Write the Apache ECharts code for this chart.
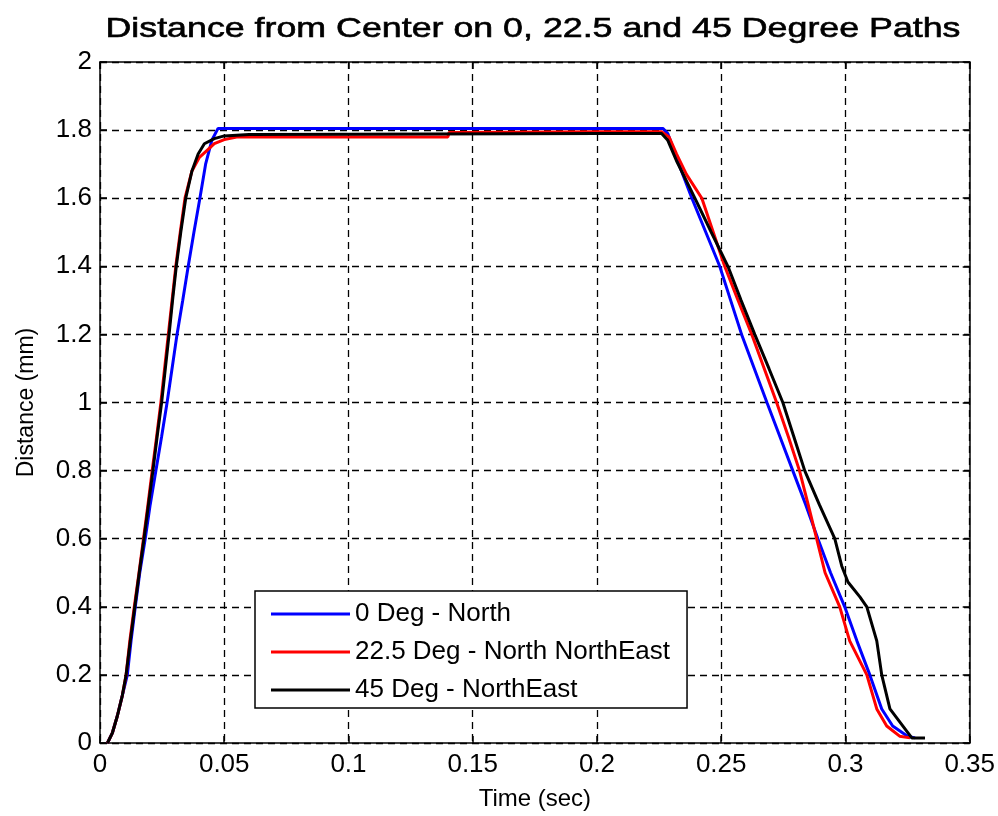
<!DOCTYPE html>
<html><head><meta charset="utf-8">
<script src="https://cdn.jsdelivr.net/npm/echarts@6/dist/echarts.min.js"></script>
<style>html,body{margin:0;padding:0;background:#fff}#c{width:998px;height:816px}</style>
</head><body><div id="c"></div>
<script>
const titleText = 'Distance from Center on 0, 22.5 and 45 Degree Paths';
const seriesNames = ['0 Deg - North', '22.5 Deg - North NorthEast', '45 Deg - NorthEast'];
const xTicks = [0, 0.05, 0.1, 0.15, 0.2, 0.25, 0.3, 0.35];
const yTicks = [0, 0.2, 0.4, 0.6, 0.8, 1, 1.2, 1.4, 1.6, 1.8, 2];
const deg0 = [[0.003,0],[0.005,0.03],[0.007,0.08],[0.009,0.14],[0.011,0.2],[0.0125,0.3],[0.0142,0.4],[0.016,0.5],[0.0182,0.6],[0.0202,0.7],[0.0225,0.8],[0.0248,0.9],[0.027,1.0],[0.029,1.1],[0.031,1.2],[0.0333,1.3],[0.0355,1.4],[0.0378,1.5],[0.0402,1.6],[0.0425,1.7],[0.045,1.77],[0.0475,1.805],[0.1,1.805],[0.2,1.805],[0.2265,1.805],[0.2285,1.79],[0.231,1.74],[0.234,1.68],[0.2382,1.6],[0.2438,1.5],[0.2494,1.4],[0.2538,1.3],[0.2582,1.2],[0.2633,1.1],[0.2684,1.0],[0.2736,0.9],[0.2788,0.8],[0.284,0.7],[0.2889,0.6],[0.294,0.5],[0.2997,0.4],[0.3046,0.3],[0.3098,0.2],[0.3146,0.1],[0.319,0.05],[0.325,0.02],[0.328,0.015]];
const deg22 = [[0.003,0],[0.005,0.03],[0.007,0.08],[0.009,0.14],[0.0105,0.2],[0.012,0.3],[0.0138,0.4],[0.0157,0.5],[0.0175,0.6],[0.0193,0.7],[0.021,0.8],[0.0228,0.9],[0.0245,1.0],[0.026,1.1],[0.0275,1.2],[0.029,1.3],[0.0305,1.4],[0.0323,1.5],[0.0342,1.6],[0.037,1.68],[0.040,1.72],[0.043,1.74],[0.046,1.76],[0.05,1.772],[0.055,1.78],[0.1,1.78],[0.14,1.78],[0.1405,1.793],[0.2,1.795],[0.226,1.795],[0.229,1.78],[0.232,1.73],[0.236,1.67],[0.2422,1.6],[0.2468,1.5],[0.2514,1.4],[0.2568,1.3],[0.2623,1.2],[0.2673,1.1],[0.2723,1.0],[0.277,0.9],[0.2815,0.8],[0.285,0.7],[0.2884,0.6],[0.2918,0.5],[0.2977,0.4],[0.3017,0.3],[0.3086,0.2],[0.3126,0.1],[0.3166,0.05],[0.3218,0.02],[0.326,0.015]];
const deg45 = [[0.003,0],[0.005,0.03],[0.007,0.08],[0.009,0.14],[0.0105,0.2],[0.0122,0.3],[0.014,0.4],[0.0158,0.5],[0.0177,0.6],[0.0195,0.7],[0.0213,0.8],[0.023,0.9],[0.0248,1.0],[0.0263,1.1],[0.0278,1.2],[0.0292,1.3],[0.0307,1.4],[0.0325,1.5],[0.0345,1.6],[0.037,1.68],[0.0395,1.73],[0.042,1.76],[0.046,1.775],[0.05,1.783],[0.06,1.787],[0.1,1.788],[0.2,1.79],[0.226,1.79],[0.2285,1.77],[0.232,1.71],[0.2394,1.6],[0.246,1.5],[0.2527,1.4],[0.258,1.3],[0.2635,1.2],[0.2692,1.1],[0.2748,1.0],[0.2792,0.9],[0.2836,0.8],[0.2895,0.7],[0.2957,0.6],[0.2985,0.52],[0.301,0.473],[0.3058,0.429],[0.3086,0.4],[0.3126,0.3],[0.3146,0.2],[0.3179,0.1],[0.3267,0.015],[0.332,0.015]];
const colors = ['#0000ff', '#ff0000', '#000000'];

const font = 'Liberation Sans, Arial, sans-serif';
// measure title to stretch it to the reference width
const cv = document.createElement('canvas').getContext('2d');
cv.font = '28px "Liberation Sans"';
const titleW = cv.measureText(titleText).width || 680;
const titleScale = 855 / titleW;

const chart = echarts.init(document.getElementById('c'), null, {renderer: 'canvas'});
const axisLine = {show: true, onZero: false, lineStyle: {color: '#000', width: 1.5}};
const tick = {show: true, inside: true, length: 7, lineStyle: {color: '#000', width: 1.5}};
const splitLine = {show: true, lineStyle: {color: '#000', type: [7, 5], width: 1.3}};
const fmt = ticks => v => { const t = ticks.find(a => Math.abs(a - v) < 1e-9); return t === undefined ? '' : String(t); };
chart.setOption({
  animation: false,
  backgroundColor: '#fff',
  graphic: [{
    type: 'text', x: 533, y: 29, scaleX: titleScale, scaleY: 1, z: 10,
    style: {text: titleText, font: '28px "Liberation Sans", Arial, sans-serif', fill: '#000',
      stroke: '#000', lineWidth: 0.6, align: 'center', verticalAlign: 'middle'}
  }],
  grid: {left: 100, right: 28, top: 62, bottom: 73, containLabel: false},
  legend: {
    orient: 'vertical', left: 255, top: 591,
    backgroundColor: '#fff', borderColor: '#000', borderWidth: 1.5,
    padding: [10, 17, 5, 16], itemGap: 12, itemWidth: 79, itemHeight: 3, icon: 'rect',
    textStyle: {fontFamily: font, fontSize: 26, lineHeight: 26, color: '#000'},
    data: seriesNames
  },
  xAxis: [{
    type: 'value', min: 0, max: 0.35, interval: 0.05,
    name: 'Time (sec)', nameLocation: 'middle', nameGap: 44,
    nameTextStyle: {fontFamily: font, fontSize: 24, color: '#000'},
    axisLine: axisLine, axisTick: tick,
    axisLabel: {fontFamily: font, fontSize: 26, color: '#000', margin: 9, formatter: fmt(xTicks)},
    splitLine: splitLine
  }, {
    type: 'value', position: 'top', min: 0, max: 0.35, interval: 0.05,
    axisLine: axisLine, axisTick: tick, axisLabel: {show: false}, splitLine: {show: false}
  }],
  yAxis: [{
    type: 'value', min: 0, max: 2, interval: 0.2,
    name: 'Distance (mm)', nameLocation: 'middle', nameGap: 62,
    nameTextStyle: {fontFamily: font, fontSize: 23, color: '#000'},
    axisLine: axisLine, axisTick: tick,
    axisLabel: {fontFamily: font, fontSize: 26, color: '#000', margin: 8, formatter: fmt(yTicks)},
    splitLine: splitLine
  }, {
    type: 'value', position: 'right', min: 0, max: 2, interval: 0.2,
    axisLine: axisLine, axisTick: tick, axisLabel: {show: false}, splitLine: {show: false}
  }],
  series: [deg0, deg22, deg45].map((d, i) => ({
    name: seriesNames[i], type: 'line', data: d, symbol: 'none',
    lineStyle: {color: colors[i], width: 3}, itemStyle: {color: colors[i]}, z: 3 + i
  }))
});
</script></body></html>
